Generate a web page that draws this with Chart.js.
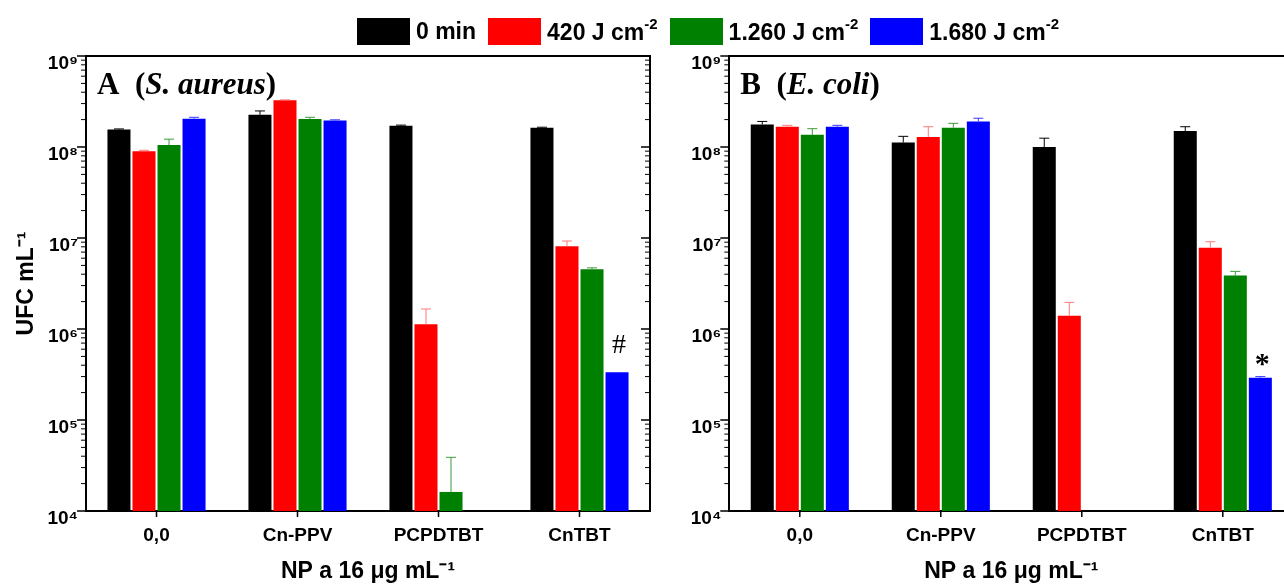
<!DOCTYPE html>
<html>
<head>
<meta charset="utf-8">
<script src="https://cdn.jsdelivr.net/npm/chart.js@4.4.1/dist/chart.umd.min.js"></script>
<style>
  html, body { margin: 0; padding: 0; background: #fff; overflow: hidden; }
  #wrap { position: relative; width: 1284px; height: 585px; overflow: hidden; }
  canvas { position: absolute; top: 0; }
  #left { left: 0; }
  #right { left: 664px; }
  #legend { position: absolute; top: 17px; left: 0; width: 1416px; display: flex; justify-content: center;
            align-items: center; font: bold 23px "Liberation Sans", Arial, sans-serif; color: #000; white-space: nowrap; z-index: 2; }
  .item { display: flex; align-items: center; margin: 0 6px; }
  .box { width: 53px; height: 27px; margin-right: 6px; }
  .item sup { font-size: 15px; position: relative; top: -2px; }
</style>
</head>
<body>
<div id="wrap">
  <div id="legend"></div>
  <canvas id="left" width="664" height="585"></canvas>
  <canvas id="right" width="660" height="585"></canvas>
</div>
<script>
// categorias e séries
const categories = ['0,0', 'Cn-PPV', 'PCPDTBT', 'CnTBT'];
const seriesLabels = ['0 min', '420 J cm⁻²', '1.260 J cm⁻²', '1.680 J cm⁻²'];
const legendText = ['0 min', '420 J cm', '1.260 J cm', '1.680 J cm'];
const legendExp = ['', '-2', '-2', '-2'];
const seriesColors = ['#000000', '#ff0000', '#008000', '#0000ff'];
const errorColors = ['#000000', '#ff7a7a', '#3c9c3c', '#3a3aff'];

// eixo y (log)
const yTickValues = [1e4, 1e5, 1e6, 1e7, 1e8, 1e9];
const yTickLabels = ['10⁴', '10⁵', '10⁶', '10⁷', '10⁸', '10⁹'];

// A (S. aureus)
const aureus0 = [1.56e8, 2.26e8, 1.71e8, 1.63e8];
const aureus420 = [9.0e7, 3.26e8, 1.13e6, 8.1e6];
const aureus1260 = [1.05e8, 2.03e8, 1.62e4, 4.53e6];
const aureus1680 = [2.05e8, 1.96e8, null, 3.34e5];
const aureus0Err = [2e6, 2.3e7, 3e6, 2e6];
const aureus420Err = [2e6, 4e6, 5.3e5, 1.17e6];
const aureus1260Err = [1.7e7, 9e6, 2.27e4, 1.7e5];
const aureus1680Err = [7e6, 3e6, null, 0];
const aureusMarks = ['', '', '', '#'];

// B (E. coli)
const coli0 = [1.77e8, 1.12e8, 1.0e8, 1.50e8];
const coli420 = [1.67e8, 1.29e8, 1.40e6, 7.83e6];
const coli1260 = [1.36e8, 1.63e8, null, 3.86e6];
const coli1680 = [1.67e8, 1.91e8, null, 2.92e5];
const coli0Err = [1.4e7, 1.9e7, 2.5e7, 1.7e7];
const coli420Err = [6e6, 3.8e7, 5.6e5, 1.27e6];
const coli1260Err = [2.3e7, 1.9e7, null, 4.4e5];
const coli1680Err = [6e6, 1.6e7, null, 8e3];
const coliMarks = ['', '', '', '*'];

const sans = '"Liberation Sans", Arial, sans-serif';
const serif = '"Liberation Serif", "Times New Roman", serif';

// legenda em HTML
const legend = document.getElementById('legend');
legendText.forEach((t, i) => {
  const item = document.createElement('div');
  item.className = 'item';
  item.innerHTML = '<div class="box" style="background:' + seriesColors[i] + '"></div><span>' + t +
    (legendExp[i] ? '<sup>' + legendExp[i] + '</sup>' : '') + '</span>';
  legend.appendChild(item);
});

// barras de erro, marcas, moldura e ticks
const decor = {
  id: 'decor',
  afterDatasetsDraw(chart) {
    const ctx = chart.ctx;
    const y = chart.scales.y;
    ctx.save();
    chart.data.datasets.forEach((ds, i) => {
      const meta = chart.getDatasetMeta(i);
      meta.data.forEach((bar, j) => {
        const v = ds.data[j];
        if (v == null) return;
        const e = ds.errors[j];
        if (e) {
          const top = y.getPixelForValue(v + e);
          ctx.strokeStyle = ds.errorColor;
          ctx.lineWidth = 1;
          ctx.beginPath();
          ctx.moveTo(bar.x, bar.y);
          ctx.lineTo(bar.x, top);
          ctx.moveTo(bar.x - 5, top);
          ctx.lineTo(bar.x + 5, top);
          ctx.stroke();
        }
        const m = ds.marks && ds.marks[j];
        if (m) {
          ctx.fillStyle = '#000';
          ctx.textAlign = 'center';
          ctx.textBaseline = 'middle';
          ctx.font = (m === '*' ? 'bold 30px ' : '28px ') + serif;
          ctx.fillText(m, bar.x + 2, bar.y - (m === '*' ? 12 : 27));
        }
      });
    });
    ctx.restore();
  },
  afterDraw(chart, args, opts) {
    const ctx = chart.ctx;
    const ca = chart.chartArea;
    const y = chart.scales.y, x = chart.scales.x;
    ctx.save();
    ctx.strokeStyle = '#000';
    ctx.lineWidth = 2;
    ctx.beginPath();
    ctx.moveTo(ca.left, ca.top);
    ctx.lineTo(ca.right, ca.top);
    ctx.lineTo(ca.right, ca.bottom);
    ctx.stroke();
    // ticks do eixo y (maiores e menores, espelhados à direita)
    yTickValues.forEach((d, k) => {
      const py = y.getPixelForValue(d);
      ctx.lineWidth = 1.5;
      ctx.beginPath();
      ctx.moveTo(ca.left - 9, py); ctx.lineTo(ca.left, py);
      ctx.moveTo(ca.right, py); ctx.lineTo(ca.right - 9, py);
      ctx.stroke();
      if (k === yTickValues.length - 1) return;
      ctx.lineWidth = 1;
      ctx.beginPath();
      for (let m = 2; m <= 9; m++) {
        const p = y.getPixelForValue(d * m);
        ctx.moveTo(ca.left - 5, p); ctx.lineTo(ca.left, p);
        ctx.moveTo(ca.right, p); ctx.lineTo(ca.right - 5, p);
      }
      ctx.stroke();
    });
    // ticks do eixo x
    ctx.lineWidth = 1.5;
    ctx.beginPath();
    x.ticks.forEach((t, i) => {
      const px = x.getPixelForTick(i);
      ctx.moveTo(px, ca.bottom); ctx.lineTo(px, ca.bottom + 6);
    });
    ctx.stroke();
    // título do painel
    let tx = ca.left + 11;
    const ty = ca.top + 38;
    ctx.fillStyle = '#000';
    ctx.textAlign = 'left';
    ctx.textBaseline = 'alphabetic';
    opts.title.forEach((part, i) => {
      ctx.font = (i === 1 ? 'italic bold 31px ' : 'bold 31px ') + serif;
      ctx.fillText(part, tx, ty);
      tx += ctx.measureText(part).width;
    });
    ctx.restore();
  }
};

function makePanel(id, series, errs, marks, title, showYTitle, yWidth, padRight) {
  return new Chart(document.getElementById(id), {
    type: 'bar',
    data: {
      labels: categories,
      datasets: seriesLabels.map((lab, i) => ({
        label: lab,
        data: series[i],
        errors: errs[i],
        marks: i === 3 ? marks : null,
        backgroundColor: seriesColors[i],
        errorColor: errorColors[i],
        borderWidth: 0,
        categoryPercentage: 0.71,
        barPercentage: 0.92
      }))
    },
    options: {
      responsive: false,
      animation: false,
      layout: { padding: { left: 0, right: padRight, top: 56, bottom: 0 } },
      plugins: {
        legend: { display: false },
        tooltip: { enabled: false },
        decor: { title: title }
      },
      scales: {
        x: {
          type: 'category',
          offset: true,
          grid: { display: false, drawTicks: false, tickLength: 0 },
          border: { display: true, color: '#000', width: 2 },
          ticks: { color: '#000', font: { family: sans, size: 19, weight: 'bold' }, padding: 13, maxRotation: 0, autoSkip: false },
          title: { display: true, text: 'NP a 16 μg mL⁻¹', color: '#000', font: { family: sans, size: 23, weight: 'bold' }, padding: { top: 0, bottom: 0 } },
          afterFit(s) { s.height = 74; }
        },
        y: {
          type: 'logarithmic',
          min: 1e4,
          max: 1e9,
          grid: { display: false, drawTicks: false, tickLength: 0 },
          border: { display: true, color: '#000', width: 2 },
          ticks: {
            color: '#000',
            font: { family: sans, size: 19, weight: 'bold' },
            padding: 8,
            labelOffset: 8,
            autoSkip: false,
            callback(v) {
              const k = yTickValues.findIndex(d => Math.abs(Math.log10(d) - Math.log10(v)) < 1e-6);
              return k >= 0 ? yTickLabels[k] : '';
            }
          },
          title: { display: showYTitle, text: 'UFC mL⁻¹', color: '#000', font: { family: sans, size: 23, weight: 'bold' }, padding: { top: 13, bottom: 0 } },
          afterFit(s) { s.width = yWidth; }
        }
      }
    },
    plugins: [decor]
  });
}

makePanel('left',
  [aureus0, aureus420, aureus1260, aureus1680],
  [aureus0Err, aureus420Err, aureus1260Err, aureus1680Err],
  aureusMarks, ['A  (', 'S. aureus', ')'], true, 86, 14);

makePanel('right',
  [coli0, coli420, coli1260, coli1680],
  [coli0Err, coli420Err, coli1260Err, coli1680Err],
  coliMarks, ['B  (', 'E. coli', ')'], false, 65.3, 30.7);
</script>
</body>
</html>
